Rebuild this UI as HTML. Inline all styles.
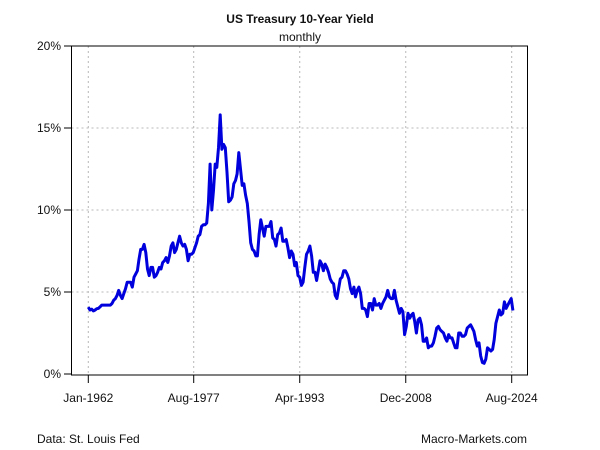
<!DOCTYPE html>
<html><head><meta charset="utf-8">
<style>
html,body{margin:0;padding:0;background:#fff;}
svg{display:block;font-family:"Liberation Sans",Arial,sans-serif;}
</style></head>
<body>
<svg id="chart" width="600" height="450" viewBox="0 0 600 450">
<rect width="600" height="450" fill="#fff"/>
<text x="300" y="23" text-anchor="middle" font-size="12" font-weight="bold" fill="#111">US Treasury 10-Year Yield</text>
<text x="300" y="41" text-anchor="middle" font-size="12" fill="#111">monthly</text>
<g id="grid"></g>
<g id="axes"></g>
<g id="series"></g>
<rect x="71.5" y="46" width="456" height="329" fill="none" stroke="#000" stroke-width="1"/>
<text x="37" y="443" font-size="12" fill="#111">Data: St. Louis Fed</text>
<text x="527" y="443" text-anchor="end" font-size="12" fill="#111">Macro-Markets.com</text>
</svg>
<script>
const startYear = 1962;
const yields = [
4.08,3.9,3.95,3.85, 3.9,3.98,4.0,4.1, 4.2,4.2,4.2,4.2, 4.2,4.2,4.3,4.5,
4.6,4.8,5.1,4.8, 4.6,4.9,5.2,5.6, 5.6,5.6,5.3,5.9, 6.1,6.3,7.0,7.6,
7.6,7.9,7.4,6.4, 6.0,6.5,6.5,5.9, 6.0,6.2,6.5,6.4, 6.8,6.9,7.1,6.8,
7.2,7.8,8.0,7.4, 7.6,8.0,8.4,8.0, 7.8,7.9,7.6,6.9, 7.3,7.3,7.4,7.7,
8.0,8.4,8.5,9.0, 9.1,9.1,9.2,10.4, 12.8,10.0,11.2,12.8, 12.6,13.8,15.8,13.7,
14.0,13.8,12.3,10.5, 10.6,10.8,11.6,11.8, 12.2,13.5,12.5,11.5, 11.6,10.9,10.4,9.3,
8.0,7.6,7.5,7.2, 7.2,8.5,9.4,8.9, 8.4,9.0,9.0,9.0, 9.3,8.3,8.2,7.8,
8.5,8.6,8.9,8.1, 8.1,8.2,7.7,7.1, 7.5,7.3,6.6,6.8, 6.0,5.9,5.4,5.6,
6.5,7.3,7.5,7.8, 7.2,6.2,6.2,5.7, 6.3,6.9,6.7,6.3, 6.7,6.5,6.2,5.8,
5.6,5.5,4.8,4.6, 5.2,5.8,5.9,6.3, 6.3,6.1,5.8,5.2, 4.9,5.3,4.7,5.1,
5.3,4.9,4.0,4.0, 3.9,3.5,4.3,4.3, 3.9,4.6,4.2,4.2, 4.3,4.0,4.3,4.5,
4.7,5.1,4.7,4.6, 4.6,5.1,4.5,4.1, 3.7,4.0,3.8,2.4, 2.9,3.7,3.4,3.6,
3.7,3.2,2.5,3.3, 3.4,3.0,2.0,2.0, 2.2,1.6,1.7,1.7, 1.9,2.3,2.8,2.9,
2.7,2.6,2.5,2.2, 2.0,2.4,2.2,2.2, 1.9,1.6,1.6,2.5, 2.5,2.3,2.3,2.4,
2.8,2.9,3.0,2.8, 2.6,2.1,1.7,1.9, 1.1,0.7,0.65,0.9, 1.6,1.5,1.4,1.5,
2.1,3.1,3.5,3.9, 3.6,3.7,4.4,4.0, 4.2,4.4,4.6,3.87
];
const xTickLabels = ["Jan-1962","Aug-1977","Apr-1993","Dec-2008","Aug-2024"];
const xTickTimes = [1962.0, 1977.58, 1993.25, 2008.92, 2024.58];
const yTicks = [0,5,10,15,20];

const NS="http://www.w3.org/2000/svg";
function xs(t){return 88.3 + (t-1962.0)*(511.7-88.3)/(2024.58-1962.0);}
function ys(v){return 374 - v*16.4;}
function mk(tag,attrs,parent){const e=document.createElementNS(NS,tag);for(const k in attrs)e.setAttribute(k,attrs[k]);parent.appendChild(e);return e;}
const grid=document.getElementById('grid'),axes=document.getElementById('axes'),series=document.getElementById('series');
yTicks.forEach(v=>{
  const y=ys(v);
  if(v>0&&v<20){const g=mk('line',{x1:71.5,x2:527.5,y1:y,y2:y,stroke:'#b8b8b8','stroke-dasharray':'2,3'},grid);
  
  }
  const t=mk('line',{x1:64,x2:71.5,y1:y,y2:y,stroke:'#000'},axes);
  
  
  const l=mk('text',{x:61,y:y+4,'text-anchor':'end','font-size':'12',fill:'#111'},axes);
  l.textContent=v+'%';
  
  
});
xTickTimes.forEach((tm,i)=>{
  const x=xs(tm);
  const g=mk('line',{x1:x,x2:x,y1:46,y2:375,stroke:'#b8b8b8','stroke-dasharray':'2,3'},grid);
  
  
  const t=mk('line',{x1:x,x2:x,y1:375,y2:383,stroke:'#000'},axes);
  
  
  const l=mk('text',{x:x,y:402,'text-anchor':'middle','font-size':'12',fill:'#111'},axes);
  l.textContent=xTickLabels[i];
  
  
});
const pts=yields.map((v,i)=>xs(startYear+i/4).toFixed(1)+','+ys(v).toFixed(1)).join(' ');
const line=mk('polyline',{points:pts,fill:'none',stroke:'#0000dd','stroke-width':'3','stroke-linejoin':'round'},series);


</script>
</body></html>
